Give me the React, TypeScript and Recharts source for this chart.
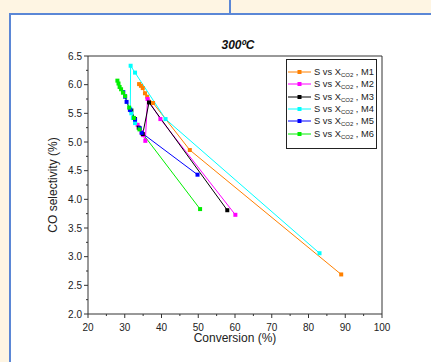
import React from 'react';
import { LineChart, Line, XAxis, YAxis, ReferenceLine, Legend, Label } from 'recharts';

const m1 = [
  { x: 33.9, y: 6.01 }, { x: 34.4, y: 5.98 }, { x: 34.9, y: 5.94 }, { x: 35.5, y: 5.85 },
  { x: 36.1, y: 5.79 }, { x: 37.7, y: 5.68 }, { x: 47.7, y: 4.86 }, { x: 88.9, y: 2.69 },
];
const m2 = [
  { x: 33.5, y: 5.30 }, { x: 34.6, y: 5.17 }, { x: 35.0, y: 5.12 }, { x: 35.6, y: 5.02 },
  { x: 36.2, y: 5.75 }, { x: 39.7, y: 5.40 }, { x: 60.1, y: 3.73 },
];
const m3 = [
  { x: 31.8, y: 5.55 }, { x: 32.8, y: 5.40 }, { x: 33.8, y: 5.25 }, { x: 34.9, y: 5.14 },
  { x: 36.6, y: 5.69 }, { x: 57.9, y: 3.81 },
];
const m4 = [
  { x: 32.8, y: 5.33 }, { x: 32.2, y: 5.42 }, { x: 31.8, y: 5.50 }, { x: 31.5, y: 5.58 },
  { x: 31.6, y: 6.33 }, { x: 32.8, y: 6.21 }, { x: 41.1, y: 5.40 }, { x: 83.0, y: 3.06 },
];
const m5 = [
  { x: 29.6, y: 5.87 }, { x: 30.1, y: 5.79 }, { x: 30.5, y: 5.70 }, { x: 31.4, y: 5.56 },
  { x: 32.8, y: 5.39 }, { x: 34.1, y: 5.24 }, { x: 34.6, y: 5.16 }, { x: 49.8, y: 4.43 },
];
const m6 = [
  { x: 28.0, y: 6.07 }, { x: 28.3, y: 6.02 }, { x: 28.6, y: 5.96 }, { x: 29.0, y: 5.92 },
  { x: 29.5, y: 5.86 }, { x: 30.1, y: 5.80 }, { x: 31.2, y: 5.60 }, { x: 32.5, y: 5.42 },
  { x: 34.0, y: 5.22 }, { x: 50.5, y: 3.83 },
];

const seriesNames = ['M1', 'M2', 'M3', 'M4', 'M5', 'M6'];
const seriesData = [m1, m2, m3, m4, m5, m6];
const seriesColors = ['#ff8000', '#ff00ff', '#000000', '#00ffff', '#0000ff', '#00ee00'];

const xTicks = [20, 25, 30, 35, 40, 45, 50, 55, 60, 65, 70, 75, 80, 85, 90, 95, 100];
const yTicks = [2, 2.25, 2.5, 2.75, 3, 3.25, 3.5, 3.75, 4, 4.25, 4.5, 4.75, 5, 5.25, 5.5, 5.75, 6, 6.25, 6.5];

const FONT = '"Liberation Sans", Arial, sans-serif';
const AXIS = '#333333';

const XTick = (props: any) => {
  const { x, y, payload } = props;
  const major = payload.value % 10 === 0;
  return (
    <g>
      <line x1={x} x2={x} y1={y} y2={y + (major ? 4 : 2)} stroke={AXIS} strokeWidth={1} />
      {major && (
        <text x={x} y={y + 16.5} textAnchor="middle" fontSize={10} fill="#222" fontFamily={FONT}>
          {payload.value}
        </text>
      )}
    </g>
  );
};

const YTick = (props: any) => {
  const { x, y, payload } = props;
  const major = Math.abs(payload.value * 2 - Math.round(payload.value * 2)) < 1e-6;
  return (
    <g>
      <line x1={x} x2={x - (major ? 4 : 2)} y1={y} y2={y} stroke={AXIS} strokeWidth={1} />
      {major && (
        <text x={x - 6} y={y} dy="0.35em" textAnchor="end" fontSize={10} fill="#222" fontFamily={FONT}>
          {payload.value.toFixed(1)}
        </text>
      )}
    </g>
  );
};

const makeDot = (color: string) => (p: any) => (
  <rect key={`d-${p.index}-${color}`} x={p.cx - 2} y={p.cy - 2} width={4} height={4} fill={color} />
);

const LegendBox = () => (
  <div
    style={{
      width: 91,
      height: 90,
      boxSizing: 'border-box',
      border: '1px solid #222',
      background: '#fff',
      padding: '6px 0 0 0',
      fontFamily: FONT,
      fontSize: 9.3,
      color: '#222',
    }}
  >
    {seriesNames.map((n, i) => (
      <div key={n} style={{ display: 'flex', alignItems: 'center', height: 12.3, whiteSpace: 'nowrap' }}>
        <svg width={26} height={8} style={{ flex: 'none' }}>
          <line x1={1} x2={24} y1={4} y2={4} stroke={seriesColors[i]} strokeWidth={1} />
          <rect x={10.5} y={2} width={4} height={4} fill={seriesColors[i]} />
        </svg>
        <span style={{ marginLeft: 1 }}>
          S vs X
          <span style={{ fontSize: 6, position: 'relative', top: 2 }}>CO2</span> , {n}
        </span>
      </div>
    ))}
  </div>
);

export default function App() {
  return (
    <div
      style={{
        position: 'fixed',
        left: 0,
        top: 0,
        width: 431,
        height: 362,
        background: '#fef5e3',
        overflow: 'hidden',
      }}
    >
      <div style={{ position: 'absolute', left: 229, top: 0, width: 2, height: 14, background: '#5b87d6' }} />
      <div
        style={{
          position: 'absolute',
          left: 9,
          top: 13,
          width: 440,
          height: 400,
          background: '#ffffff',
          border: '2px solid #5b87d6',
        }}
      />
      <div style={{ position: 'absolute', left: 0, top: 0 }}>
        <LineChart width={431} height={362} margin={{ top: 56, right: 49, bottom: 0, left: 0 }}>
          <XAxis
            type="number"
            dataKey="x"
            domain={[20, 100]}
            ticks={xTicks}
            interval={0}
            allowDataOverflow
            height={48}
            tickSize={0}
            tickMargin={0}
            tickLine={false}
            tick={<XTick />}
            axisLine={{ stroke: AXIS, strokeWidth: 1 }}
          >
            <Label
              content={(p: any) => {
                const vb = p.viewBox;
                return (
                  <text x={vb.x + vb.width / 2} y={342} textAnchor="middle" fontSize={12} fill="#222" fontFamily={FONT}>
                    Conversion (%)
                  </text>
                );
              }}
            />
          </XAxis>
          <YAxis
            type="number"
            dataKey="y"
            domain={[2, 6.5]}
            ticks={yTicks}
            interval={0}
            allowDataOverflow
            width={88}
            tickSize={0}
            tickMargin={0}
            tickLine={false}
            tick={<YTick />}
            axisLine={{ stroke: AXIS, strokeWidth: 1 }}
          >
            <Label
              content={(p: any) => {
                const vb = p.viewBox;
                const cy = vb.y + vb.height / 2;
                return (
                  <text
                    x={57}
                    y={cy}
                    transform={`rotate(-90 57 ${cy})`}
                    textAnchor="middle"
                    fontSize={12}
                    fill="#222"
                    fontFamily={FONT}
                  >
                    CO selectivity (%)
                  </text>
                );
              }}
            />
          </YAxis>
          <ReferenceLine
            y={6.5}
            stroke={AXIS}
            strokeWidth={1}
            label={(p: any) => {
              const vb = p.viewBox;
              return (
                <text
                  x={vb.x + vb.width / 2 + 3}
                  y={vb.y - 7}
                  textAnchor="middle"
                  fontSize={12}
                  fontWeight="bold"
                  fontStyle="italic"
                  fill="#111"
                  fontFamily={FONT}
                >
                  300ºC
                </text>
              );
            }}
          />
          <ReferenceLine x={100} stroke={AXIS} strokeWidth={1} />
          {seriesData.map((d, i) => (
            <Line
              key={seriesNames[i]}
              data={d}
              dataKey="y"
              name={seriesNames[i]}
              type="linear"
              stroke={seriesColors[i]}
              strokeWidth={1}
              dot={makeDot(seriesColors[i])}
              activeDot={false}
              isAnimationActive={false}
            />
          ))}
          <Legend
            layout="vertical"
            align="center"
            verticalAlign="middle"
            content={<LegendBox />}
            wrapperStyle={{ position: 'absolute', left: 286, top: 59, width: 91, height: 90 }}
          />
        </LineChart>
      </div>
    </div>
  );
}
